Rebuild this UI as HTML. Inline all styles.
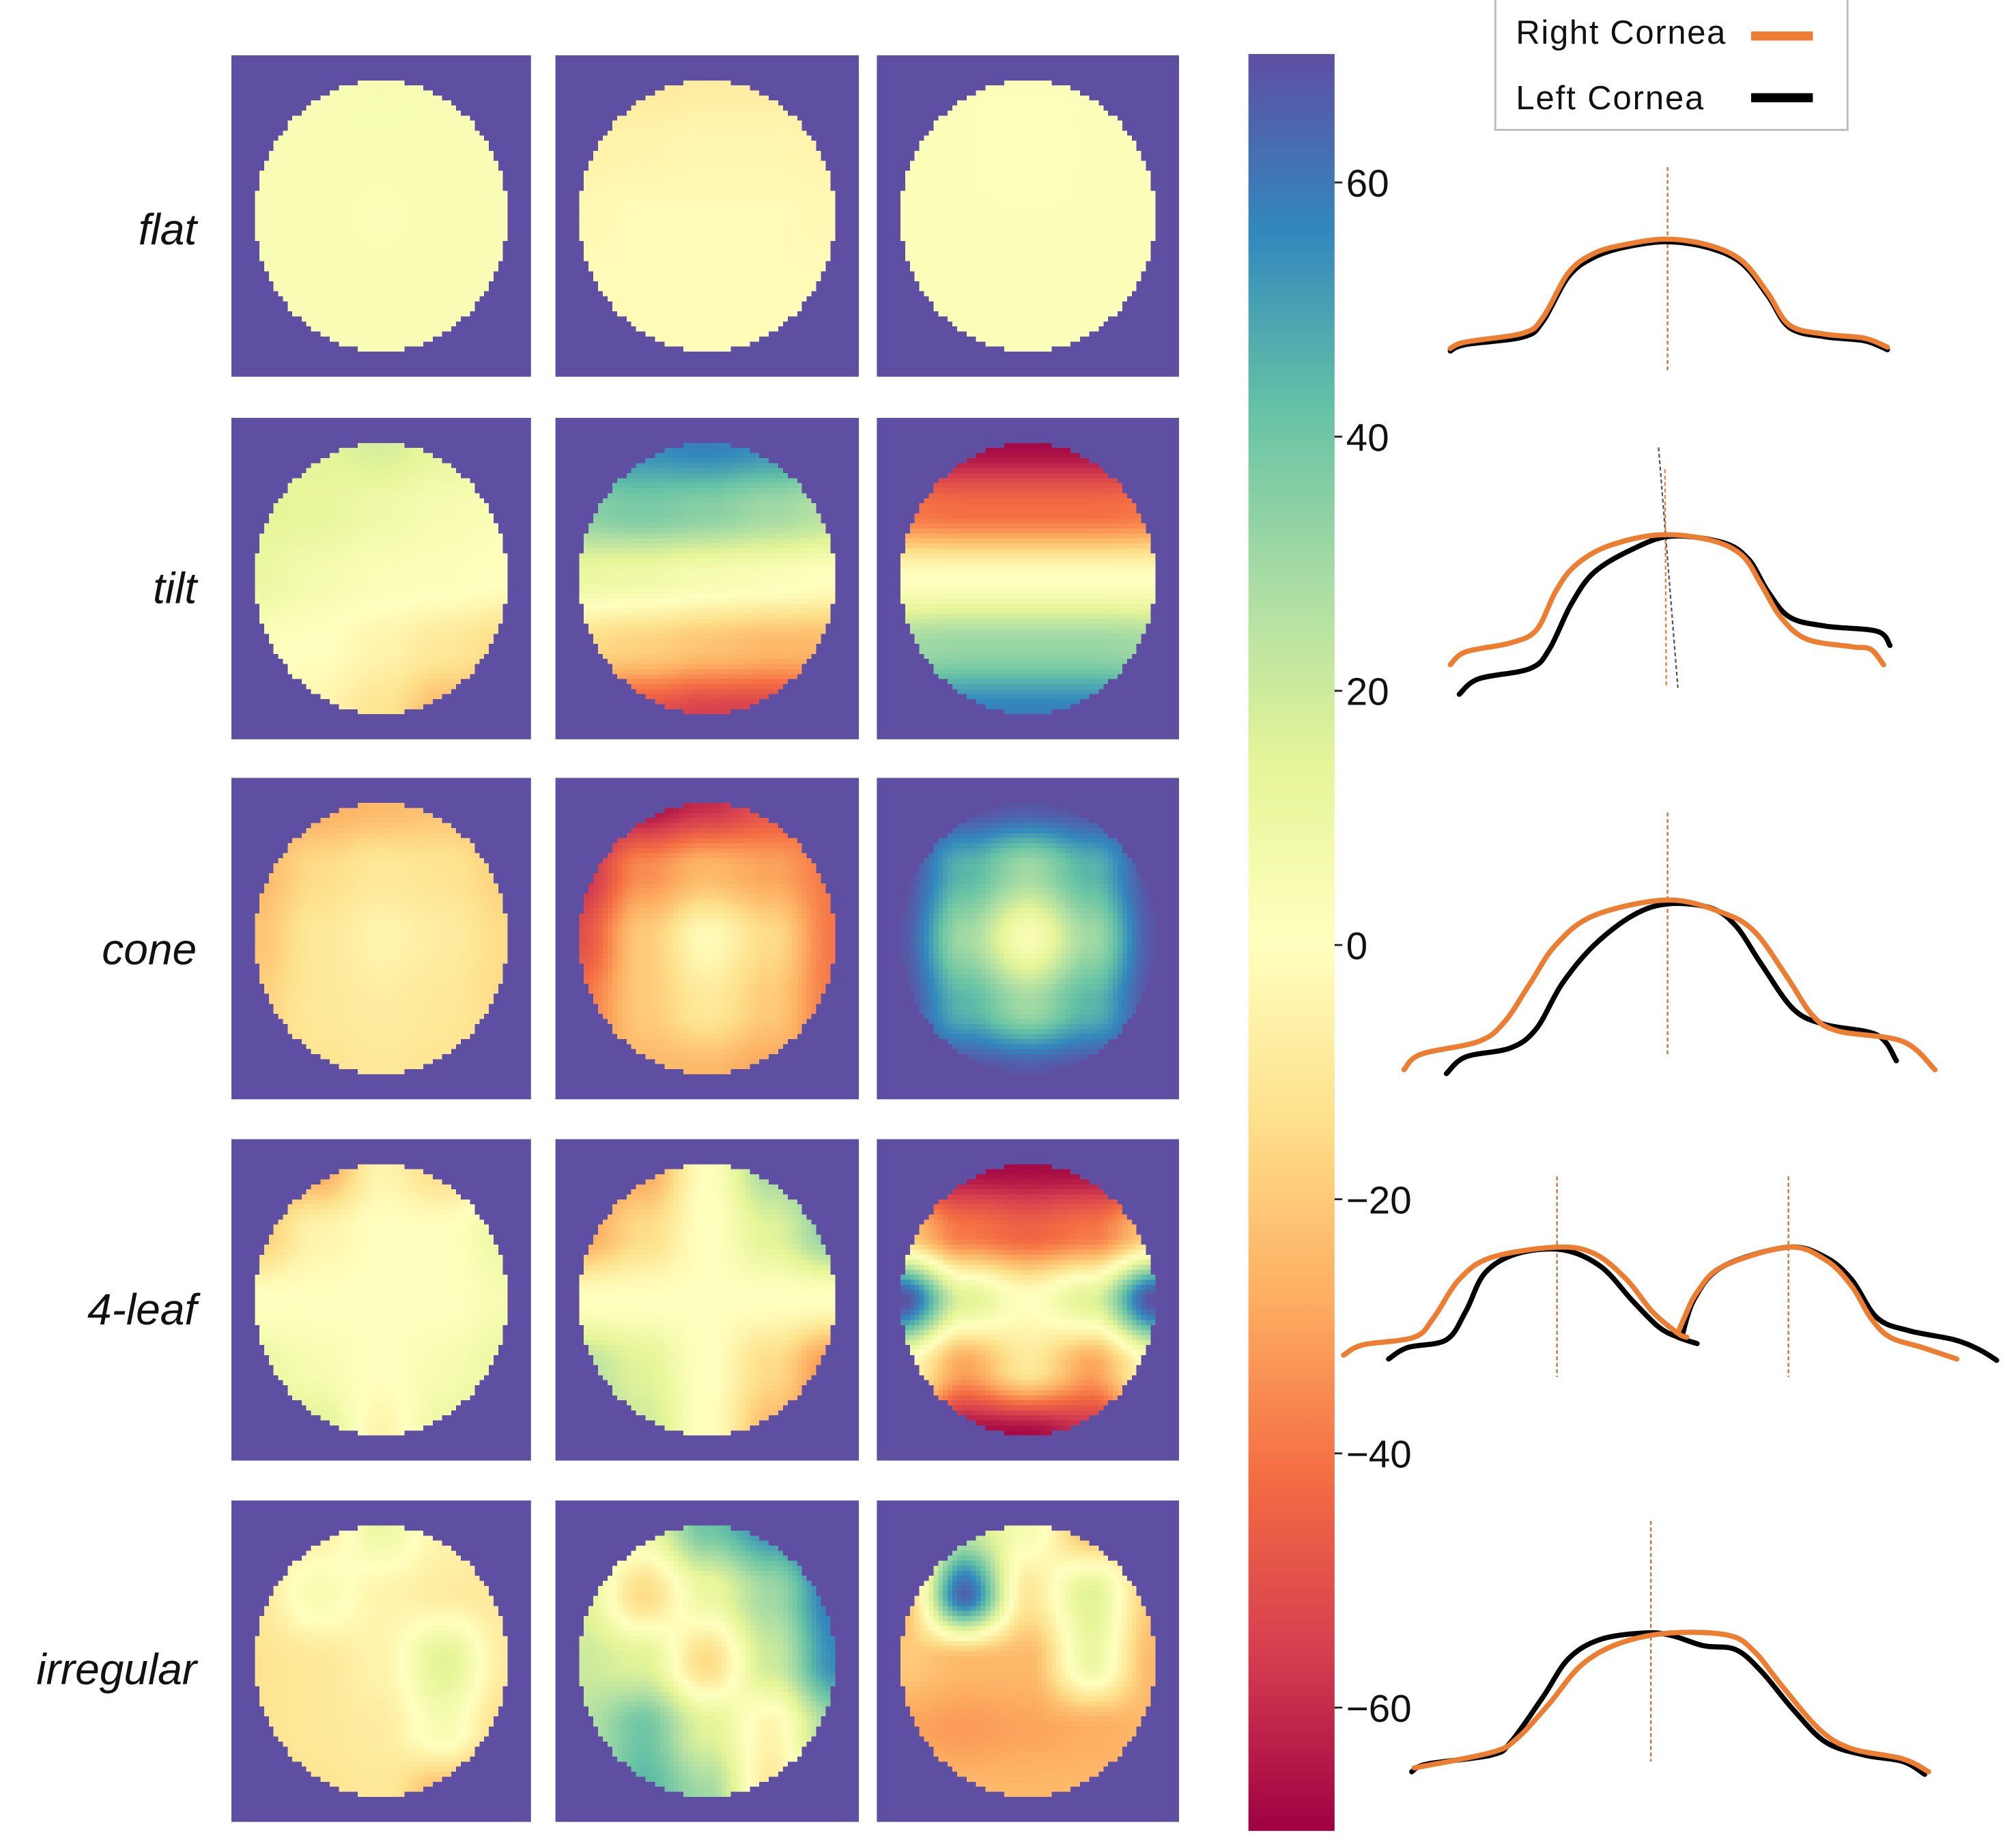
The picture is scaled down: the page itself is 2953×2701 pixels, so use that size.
<!DOCTYPE html>
<html><head><meta charset="utf-8">
<style>
html,body{margin:0;padding:0;background:#fff;width:2953px;height:2700px;overflow:hidden}
#stage{position:absolute;left:0;top:0;width:1568px;height:1434px;transform:scale(1.88329);transform-origin:0 0;font-family:"Liberation Sans","DejaVu Sans",sans-serif}
canvas.hm{position:absolute;image-rendering:pixelated}
.rowlabel{position:absolute;width:153px;text-align:right;font-style:italic;font-size:34px;color:#111;line-height:1}
svg{position:absolute;left:0;top:0}
</style></head>
<body>
<div id="stage">
  <div class="rowlabel" style="left:0px;top:162px">flat</div>
  <div class="rowlabel" style="left:0px;top:441px">tilt</div>
  <div class="rowlabel" style="left:0px;top:722px">cone</div>
  <div class="rowlabel" style="left:0px;top:1002px">4-leaf</div>
  <div class="rowlabel" style="left:0px;top:1282px">irregular</div>
  <svg id="ov" width="1568" height="1434" viewBox="0 0 1568 1434">
    <defs>
      <linearGradient id="cbg" x1="0" y1="0" x2="0" y2="1">
        <stop offset="0" stop-color="#5e4fa2"/><stop offset="0.1" stop-color="#3288bd"/>
        <stop offset="0.2" stop-color="#66c2a5"/><stop offset="0.3" stop-color="#abdda4"/>
        <stop offset="0.4" stop-color="#e6f598"/><stop offset="0.5" stop-color="#ffffbf"/>
        <stop offset="0.6" stop-color="#fee08b"/><stop offset="0.7" stop-color="#fdae61"/>
        <stop offset="0.8" stop-color="#f46d43"/><stop offset="0.9" stop-color="#d53e4f"/>
        <stop offset="1" stop-color="#9e0142"/>
      </linearGradient>
    </defs>
    <rect x="971" y="42" width="67" height="1382" fill="url(#cbg)"/>
    <g id="cbticks"></g>
    <g>
      <rect x="1163" y="-4" width="274" height="105" fill="#fff" stroke="#bbb" stroke-width="1.5"/>
      <text x="1179" y="34" font-size="26" fill="#111" font-family="Liberation Sans, sans-serif" textLength="163">Right Cornea</text>
      <line x1="1362" y1="28" x2="1410" y2="28" stroke="#ed7d31" stroke-width="7"/>
      <text x="1179" y="85" font-size="26" fill="#111" font-family="Liberation Sans, sans-serif" textLength="146">Left Cornea</text>
      <line x1="1362" y1="76" x2="1410" y2="76" stroke="#000" stroke-width="7"/>
    </g>
    <g id="profiles"></g>
  </svg>
</div>
<script>
// colorbar data
const cbTicks = [60, 40, 20, 0, -20, -40, -60];
const vMin = -70, vMax = 70;
// heatmap control grids (5x5, rows top->bottom), values in colorbar units
const grids = [
 [[4,4,5,4,4],[4,4,4,4,4],[4,4,3,4,4],[4,4,4,4,4],[5,4,4,4,5]],
 [[-10,-9,-8,-8,-8],[-6,-5,-4,-4,-5],[-3,-2,-2,-2,-3],[-2,-2,-2,-2,-2],[-3,-2,-2,-2,-3]],
 [[2,2,2,2,2],[2,2,1,2,2],[2,2,2,2,2],[2,2,2,2,2],[2,2,2,2,2]],
 [[12,14,18,12,8],[14,12,8,5,3],[10,6,3,2,0],[2,0,-5,-10,-15],[-3,-5,-12,-25,-30]],
 [[50,55,58,55,50],[35,38,35,30,25],[10,8,5,3,0],[-15,-18,-22,-25,-25],[-45,-50,-55,-55,-50]],
 [[-65,-68,-68,-68,-65],[-40,-42,-42,-42,-40],[0,0,0,0,0],[30,32,32,32,30],[55,58,58,58,55]],
 [[-28,-28,-25,-22,-20],[-25,-15,-10,-12,-18],[-22,-10,-5,-8,-15],[-18,-10,-8,-10,-15],[-15,-12,-10,-12,-15]],
 [[-68,-68,-60,-50,-40],[-60,-35,-25,-30,-40],[-50,-20,-2,-15,-40],[-40,-20,-10,-20,-40],[-30,-25,-25,-30,-35]],
 [[70,70,68,70,70],[70,45,30,45,70],[68,30,4,30,68],[70,45,30,45,70],[70,70,68,70,70]],
 [[-30,-30,-5,-15,-5],[-20,-5,0,0,10],[0,0,0,0,5],[10,5,0,5,10],[20,15,-5,10,20]],
 [[-35,-30,0,30,45],[-30,-15,0,15,35],[0,0,0,0,0],[25,15,0,-15,-35],[35,20,0,-25,-45]],
 [[-68,-68,-68,-68,-68],[-20,-40,-45,-40,-20],[70,15,0,15,70],[0,-30,-10,-30,0],[-30,-68,-68,-60,-30]],
 [[-10,-8,10,-5,-10],[-10,5,-5,-8,-10],[-12,-10,-5,15,-8],[-12,-10,-8,5,-15],[-15,-12,-10,-25,-40]],
 [[-5,10,40,55,70],[15,-15,10,30,60],[20,15,-15,20,55],[25,40,15,-5,30],[20,45,30,-10,10]],
 [[-20,20,5,-25,-15],[-25,65,-10,15,-20],[-20,-25,-25,10,-25],[-30,-32,-30,-28,-25],[-25,-25,-25,-25,-25]]
];
// profile data
const profRightX = [
 [1128,1140,1185,1200,1220,1240,1265,1297,1330,1355,1375,1392,1420,1450,1468],
 [1128,1140,1175,1195,1210,1225,1250,1290,1330,1355,1370,1385,1405,1440,1455,1465],
 [1092,1105,1150,1170,1190,1210,1240,1297,1340,1365,1390,1410,1430,1480,1505],
 [1045,1060,1100,1115,1135,1160,1211,1240,1265,1285,1305,1312],
 [1100,1160,1180,1205,1230,1260,1300,1345,1365,1385,1415,1440,1480,1500]
];
const profRightY = [
 [271,266,259,247,212,197,190,186,191,203,228,253,260,263,270],
 [517,507,500,490,460,440,425,416,420,432,455,480,497,503,505,517],
 [832,820,810,795,765,735,712,700,710,725,760,790,802,810,832],
 [1054,1046,1040,1025,995,978,970,975,995,1020,1037,1040],
 [1375,1363,1352,1325,1295,1278,1270,1272,1285,1310,1345,1360,1368,1378]
];
const profRight2X = [[],[],[],[1305,1310,1320,1340,1391,1420,1440,1455,1470,1495,1522],[]];
const profRight2Y = [[],[],[],[1037,1025,1005,985,970,980,1000,1025,1040,1048,1057],[]];
const profLeftX = [
 [1128,1140,1185,1200,1220,1240,1265,1297,1330,1355,1375,1392,1420,1450,1468],
 [1135,1150,1190,1205,1222,1240,1270,1300,1340,1360,1375,1392,1420,1460,1470],
 [1125,1140,1175,1195,1215,1240,1270,1297,1330,1350,1370,1395,1420,1460,1475],
 [1080,1095,1125,1140,1155,1180,1215,1245,1270,1290,1305,1320],
 [1098,1110,1160,1175,1200,1220,1245,1280,1300,1325,1350,1370,1395,1420,1450,1480,1497]
];
const profLeftY = [
 [273,268,262,250,215,200,192,188,193,205,230,255,262,265,272],
 [540,528,520,505,470,445,427,417,422,435,460,480,487,491,502],
 [835,822,815,800,765,735,712,703,706,720,750,785,797,805,825],
 [1057,1048,1042,1020,990,975,972,985,1012,1032,1040,1045],
 [1378,1372,1365,1355,1320,1290,1275,1270,1272,1280,1283,1300,1330,1355,1365,1370,1380]
];
const profLeft2X = [[],[],[],[1308,1318,1340,1391,1420,1440,1460,1485,1520,1540,1553],[]];
const profLeft2Y = [[],[],[],[1040,1010,985,970,978,995,1025,1035,1042,1050,1058],[]];

const stops = ["#9e0142","#d53e4f","#f46d43","#fdae61","#fee08b","#ffffbf","#e6f598","#abdda4","#66c2a5","#3288bd","#5e4fa2"].map(h=>[parseInt(h.slice(1,3),16),parseInt(h.slice(3,5),16),parseInt(h.slice(5,7),16)]);
function cmap(v){let t=(v-vMin)/(vMax-vMin);t=Math.max(0,Math.min(1,t));const f=t*10,i=Math.min(9,Math.floor(f)),r=f-i;const a=stops[i],b=stops[i+1];return [a[0]+(b[0]-a[0])*r,a[1]+(b[1]-a[1])*r,a[2]+(b[2]-a[2])*r];}
const yOf = v => 735 - v*9.885;

const stage=document.getElementById('stage');
const colX=[[180,413],[432,668],[682,917]];
const rowY=[[43,293],[325,575],[605,855],[886,1136],[1167,1417]];
const N=64;
function sample(g,u,v){
  const x=Math.max(0,Math.min(4,u*4)), y=Math.max(0,Math.min(4,v*4));
  const i=Math.min(3,Math.floor(y)), j=Math.min(3,Math.floor(x)), fy=y-i, fx=x-j;
  const sx=fx*fx*(3-2*fx), sy=fy*fy*(3-2*fy);
  return g[i][j]*(1-sx)*(1-sy)+g[i][j+1]*sx*(1-sy)+g[i+1][j]*(1-sx)*sy+g[i+1][j+1]*sx*sy;
}
for(let r=0;r<5;r++)for(let c=0;c<3;c++){
  const g=grids[r*3+c];
  const cv=document.createElement('canvas');
  
  
  cv.className='hm';cv.width=N;cv.height=N;
  cv.style.left=colX[c][0]+'px';cv.style.top=rowY[r][0]+'px';
  cv.style.width=(colX[c][1]-colX[c][0])+'px';cv.style.height=(rowY[r][1]-rowY[r][0])+'px';
  const ctx=cv.getContext('2d');const img=ctx.createImageData(N,N);
  for(let y=0;y<N;y++)for(let x=0;x<N;x++){
    const nx=(x+0.5)/N, ny=(y+0.5)/N;
    const dx=(nx-0.5)/0.42, dy=(ny-0.5)/0.42;
    let col;
    if(dx*dx+dy*dy<=1){ col=cmap(sample(g,(nx-0.08)/0.84,(ny-0.08)/0.84)); }
    else col=cmap(vMax);
    const k=(y*N+x)*4;img.data[k]=col[0];img.data[k+1]=col[1];img.data[k+2]=col[2];img.data[k+3]=255;
  }
  ctx.putImageData(img,0,0);
  stage.insertBefore(cv,document.getElementById('ov'));
}
const NS='http://www.w3.org/2000/svg';
const tg=document.getElementById('cbticks');
cbTicks.forEach(v=>{
  const y=yOf(v);
  const l=document.createElementNS(NS,'line');
  l.setAttribute('x1',1038);l.setAttribute('x2',1044);l.setAttribute('y1',y);l.setAttribute('y2',y);l.setAttribute('stroke','#222');l.setAttribute('stroke-width','1.5');
  
  
  tg.appendChild(l);
  const t=document.createElementNS(NS,'text');
  t.setAttribute('x',1047);t.setAttribute('y',y+11);t.setAttribute('font-size','30');t.setAttribute('fill','#111');
  t.setAttribute('font-family','Liberation Sans, sans-serif');
  t.textContent=(v<0?'\u2212':'')+Math.abs(v);
  
  
  tg.appendChild(t);
});
const pg=document.getElementById('profiles');
function smoothPath(xs,ys){
  let d='M'+xs[0]+','+ys[0];
  for(let i=0;i<xs.length-1;i++){
    const x0=xs[Math.max(0,i-1)],y0=ys[Math.max(0,i-1)],x1=xs[i],y1=ys[i],x2=xs[i+1],y2=ys[i+1],x3=xs[Math.min(xs.length-1,i+2)],y3=ys[Math.min(xs.length-1,i+2)];
    d+=' C'+(x1+(x2-x0)/6)+','+(y1+(y2-y0)/6)+' '+(x2-(x3-x1)/6)+','+(y2-(y3-y1)/6)+' '+x2+','+y2;
  }
  return d;
}
function poly(xs,ys,color,name){
  if(!xs.length)return;
  const p=document.createElementNS(NS,'path');
  p.setAttribute('d',smoothPath(xs,ys));
  p.setAttribute('fill','none');p.setAttribute('stroke',color);p.setAttribute('stroke-width','4');
  p.setAttribute('stroke-linejoin','round');p.setAttribute('stroke-linecap','round');
  
  
  pg.appendChild(p);
}
function vline(x1,y1,x2,y2,color){
  const l=document.createElementNS(NS,'line');
  l.setAttribute('x1',x1);l.setAttribute('y1',y1);l.setAttribute('x2',x2);l.setAttribute('y2',y2);
  l.setAttribute('stroke',color);l.setAttribute('stroke-width','1.2');l.setAttribute('stroke-dasharray','3,2');
  
  
  pg.appendChild(l);
}
vline(1297,130,1297,288,'#c0703a');
vline(1290,348,1305,535,'#555');vline(1295,365,1296,535,'#e08040');
vline(1297,632,1297,822,'#c0703a');
vline(1211,915,1211,1071,'#c0703a');vline(1391,915,1391,1071,'#c0703a');
vline(1284,1183,1284,1370,'#c0703a');
for(let r=0;r<5;r++){
  poly(profLeftX[r],profLeftY[r],'#000','left-cornea-profile-'+(r+1));
  poly(profLeft2X[r],profLeft2Y[r],'#000','left-cornea-profile-'+(r+1)+'b');
  poly(profRightX[r],profRightY[r],'#ed7d31','right-cornea-profile-'+(r+1));
  poly(profRight2X[r],profRight2Y[r],'#ed7d31','right-cornea-profile-'+(r+1)+'b');
}
</script>
</body></html>
